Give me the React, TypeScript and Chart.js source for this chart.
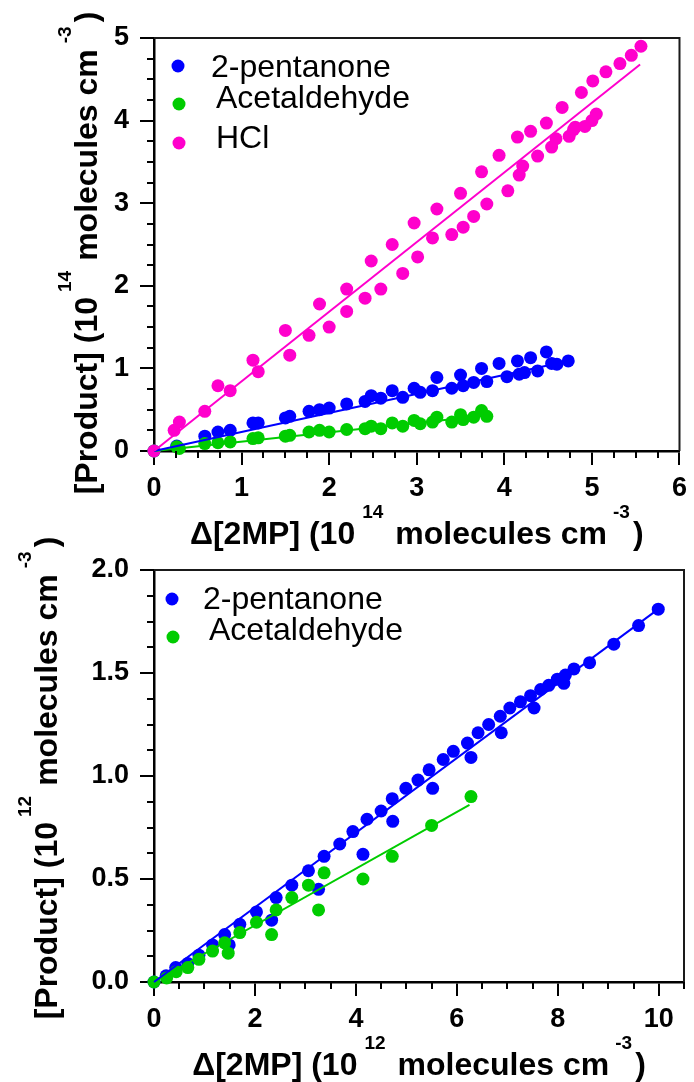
import React, { useEffect, useRef } from 'react';
import { Chart, registerables } from 'chart.js';

Chart.register(...registerables);

const BLUE = '#0000FF';
const GREEN = '#00CC00';
const MAGENTA = '#FF00CC';
const FONT = '"Liberation Sans", Arial, Helvetica, sans-serif';

// ---------- Top panel (10^14 molecules cm^-3) ----------
const topPentanoneX = [0, 0.26, 0.58, 0.73, 0.87, 1.13, 1.19, 1.50, 1.55, 1.77, 1.89, 2.00, 2.20, 2.41, 2.48, 2.59, 2.72, 2.84, 2.97, 3.04, 3.18, 3.23, 3.40, 3.50, 3.53, 3.65, 3.74, 3.80, 3.94, 4.03, 4.15, 4.17, 4.23, 4.30, 4.38, 4.48, 4.54, 4.60, 4.73];
const topPentanoneY = [0, 0.06, 0.18, 0.23, 0.25, 0.34, 0.34, 0.40, 0.42, 0.48, 0.50, 0.52, 0.57, 0.60, 0.67, 0.64, 0.73, 0.65, 0.76, 0.71, 0.73, 0.89, 0.76, 0.92, 0.79, 0.83, 1.00, 0.84, 1.06, 0.90, 1.09, 0.93, 0.95, 1.13, 0.97, 1.20, 1.06, 1.05, 1.09];
const topAcetX = [0, 0.26, 0.29, 0.58, 0.73, 0.87, 1.13, 1.19, 1.50, 1.55, 1.77, 1.89, 2.00, 2.20, 2.41, 2.48, 2.59, 2.72, 2.84, 2.97, 3.04, 3.18, 3.23, 3.40, 3.50, 3.53, 3.65, 3.74, 3.80];
const topAcetY = [0, 0.05, 0.03, 0.09, 0.10, 0.11, 0.15, 0.16, 0.18, 0.19, 0.23, 0.25, 0.23, 0.26, 0.27, 0.30, 0.27, 0.34, 0.30, 0.37, 0.33, 0.35, 0.41, 0.35, 0.44, 0.38, 0.41, 0.49, 0.42];
const topHclX = [0, 0.23, 0.29, 0.58, 0.73, 0.87, 1.13, 1.19, 1.50, 1.55, 1.77, 1.89, 2.00, 2.20, 2.20, 2.41, 2.48, 2.59, 2.72, 2.84, 2.97, 3.01, 3.18, 3.23, 3.40, 3.50, 3.53, 3.65, 3.74, 3.80, 3.94, 4.04, 4.15, 4.17, 4.21, 4.30, 4.38, 4.48, 4.54, 4.59, 4.66, 4.74, 4.79, 4.81, 4.88, 4.92, 5.00, 5.01, 5.05, 5.16, 5.32, 5.45, 5.56];
const topHclY = [0, 0.25, 0.35, 0.48, 0.79, 0.73, 1.10, 0.96, 1.46, 1.16, 1.40, 1.78, 1.50, 1.96, 1.69, 1.85, 2.30, 1.96, 2.50, 2.15, 2.76, 2.35, 2.58, 2.93, 2.62, 3.12, 2.71, 2.84, 3.38, 2.99, 3.58, 3.15, 3.80, 3.34, 3.45, 3.87, 3.57, 3.97, 3.68, 3.78, 4.16, 3.81, 3.89, 3.92, 4.34, 3.93, 4.00, 4.48, 4.08, 4.59, 4.69, 4.79, 4.90];
const topPentanoneFitX = [0, 4.73];
const topPentanoneFitY = [0, 1.09];
const topAcetFitX = [0, 3.80];
const topAcetFitY = [0, 0.43];
const topHclFitX = [0, 5.55];
const topHclFitY = [0, 4.68];

// ---------- Bottom panel (10^12 molecules cm^-3) ----------
const botPentanoneX = [0, 0.24, 0.43, 0.67, 0.89, 1.16, 1.40, 1.49, 1.70, 2.03, 2.33, 2.42, 2.73, 3.06, 3.26, 3.37, 3.68, 3.94, 4.14, 4.22, 4.50, 4.72, 4.73, 4.99, 5.23, 5.45, 5.52, 5.73, 5.93, 6.21, 6.28, 6.42, 6.63, 6.86, 6.88, 7.05, 7.26, 7.46, 7.53, 7.66, 7.82, 7.99, 8.12, 8.15, 8.32, 8.63, 9.11, 9.60, 9.99];
const botPentanoneY = [0, 0.03, 0.07, 0.09, 0.13, 0.18, 0.23, 0.18, 0.28, 0.34, 0.30, 0.41, 0.47, 0.54, 0.45, 0.61, 0.67, 0.73, 0.62, 0.79, 0.83, 0.89, 0.78, 0.94, 0.98, 1.03, 0.94, 1.08, 1.12, 1.16, 1.09, 1.21, 1.25, 1.29, 1.21, 1.33, 1.36, 1.39, 1.33, 1.42, 1.44, 1.47, 1.45, 1.49, 1.52, 1.55, 1.64, 1.73, 1.81];
const botAcetX = [0, 0.25, 0.44, 0.67, 0.89, 1.16, 1.40, 1.47, 1.70, 2.03, 2.33, 2.42, 2.73, 3.06, 3.26, 3.37, 4.14, 4.72, 5.50, 6.28];
const botAcetY = [0, 0.02, 0.05, 0.07, 0.11, 0.15, 0.19, 0.14, 0.24, 0.29, 0.23, 0.35, 0.41, 0.47, 0.35, 0.53, 0.50, 0.61, 0.76, 0.90];
const botPentanoneFitX = [0, 9.99];
const botPentanoneFitY = [0, 1.81];
const botAcetFitX = [0, 6.25];
const botAcetFitY = [0, 0.86];

// tick settings
const topXTicks = { min: 0, max: 6, step: 1, minor: 0.25 };
const topYTicks = { min: 0, max: 5, step: 1, minor: 0.25 };
const botXTicks = { min: 0, max: 10.5, step: 2, minor: 0.5 };
const botYTicks = { min: 0, max: 2, step: 0.5, minor: 0.125 };

const LABEL_PENTANONE = '2-pentanone';
const LABEL_ACET = 'Acetaldehyde';
const LABEL_HCL = 'HCl';

const zip = (xs: number[], ys: number[]) => xs.map((x, i) => ({ x, y: ys[i] }));

type Part = { t: string; sup?: boolean; gap?: number };

const xTitle = (exp: string): Part[] => [
  { t: 'Δ[2MP] (10' },
  { t: exp, sup: true, gap: 7 },
  { t: 'molecules cm', gap: 12 },
  { t: '-3', sup: true, gap: 6 },
  { t: ')', gap: 3 },
];
const yTitle = (exp: string): Part[] => [
  { t: '[Product] (10' },
  { t: exp, sup: true, gap: 5 },
  { t: 'molecules cm', gap: 10 },
  { t: '-3', sup: true, gap: 6 },
  { t: ')', gap: 4 },
];

function drawRich(ctx: CanvasRenderingContext2D, parts: Part[], ox: number, oy: number, rotated: boolean) {
  const MAIN = `bold 32px ${FONT}`;
  const SUP = `bold 19px ${FONT}`;
  const widths = parts.map((p) => {
    ctx.font = p.sup ? SUP : MAIN;
    return ctx.measureText(p.t).width;
  });
  const total = widths.reduce((a, b) => a + b, 0) + parts.reduce((a, p) => a + (p.gap || 0), 0);
  ctx.save();
  ctx.translate(ox, oy);
  if (rotated) ctx.rotate(-Math.PI / 2);
  ctx.fillStyle = '#000';
  ctx.textAlign = 'left';
  ctx.textBaseline = 'alphabetic';
  let x = -total / 2;
  parts.forEach((p, i) => {
    x += p.gap || 0;
    ctx.font = p.sup ? SUP : MAIN;
    ctx.fillText(p.t, x, p.sup ? -26 : 0);
    x += widths[i];
  });
  ctx.restore();
}

type LegendEntry = { color: string; dx: number; dy: number; tx: number; ty: number; text: string };

type Decor = {
  xMinor: number;
  yMinor: number;
  xMajor: number;
  yMajor: number;
  xTitle: Part[];
  yTitle: Part[];
  xTitleY: number;
  yTitleX: number;
  yTitleCY: number;
  legend: LegendEntry[];
};

function decorPlugin(d: Decor) {
  return {
    id: 'decor',
    afterDraw(chart: any) {
      const ctx: CanvasRenderingContext2D = chart.ctx;
      const xs = chart.scales.x;
      const ys = chart.scales.y;
      const a = chart.chartArea;
      ctx.save();
      ctx.strokeStyle = '#000';
      ctx.lineWidth = 2;
      // minor ticks x
      const nx = Math.round((xs.max - xs.min) / d.xMinor);
      for (let i = 0; i <= nx; i++) {
        const v = xs.min + i * d.xMinor;
        const r = v / d.xMajor;
        if (Math.abs(r - Math.round(r)) < 1e-6) continue;
        const px = Math.round(xs.getPixelForValue(v));
        ctx.beginPath();
        ctx.moveTo(px, a.bottom);
        ctx.lineTo(px, a.bottom + 7);
        ctx.stroke();
      }
      const ny = Math.round((ys.max - ys.min) / d.yMinor);
      for (let i = 0; i <= ny; i++) {
        const v = ys.min + i * d.yMinor;
        const r = v / d.yMajor;
        if (Math.abs(r - Math.round(r)) < 1e-6) continue;
        const py = Math.round(ys.getPixelForValue(v));
        ctx.beginPath();
        ctx.moveTo(a.left, py);
        ctx.lineTo(a.left - 7, py);
        ctx.stroke();
      }
      // top and right frame
      ctx.strokeStyle = '#1a1a1a';
      ctx.lineWidth = 2;
      ctx.beginPath();
      ctx.moveTo(a.left, a.top);
      ctx.lineTo(a.right, a.top);
      ctx.lineTo(a.right, a.bottom);
      ctx.stroke();
      ctx.restore();

      // titles
      drawRich(ctx, d.xTitle, (a.left + a.right) / 2, d.xTitleY, false);
      drawRich(ctx, d.yTitle, d.yTitleX, d.yTitleCY, true);

      // legend
      ctx.save();
      d.legend.forEach((e) => {
        ctx.fillStyle = e.color;
        ctx.beginPath();
        ctx.arc(e.dx, e.dy, 6.5, 0, Math.PI * 2);
        ctx.fill();
        ctx.fillStyle = '#000';
        ctx.font = `32px ${FONT}`;
        ctx.textAlign = 'left';
        ctx.textBaseline = 'alphabetic';
        ctx.fillText(e.text, e.tx, e.ty);
      });
      ctx.restore();
    },
  };
}

function scatterSet(data: { x: number; y: number }[], color: string, order: number) {
  return {
    type: 'scatter' as const,
    data,
    backgroundColor: color,
    borderColor: color,
    pointRadius: 6.5,
    pointHoverRadius: 6.5,
    pointBorderWidth: 0,
    showLine: false,
    clip: false as any,
    order,
  };
}

function fitSet(data: { x: number; y: number }[], color: string) {
  return {
    type: 'scatter' as const,
    data,
    borderColor: color,
    backgroundColor: color,
    borderWidth: 2,
    pointRadius: 0,
    showLine: true,
    clip: false as any,
    order: 0,
  };
}

function axis(
  t: { min: number; max: number; step: number },
  isX: boolean,
  size: number,
  fmt?: (v: number) => string
) {
  return {
    type: 'linear' as const,
    position: isX ? 'bottom' : 'left',
    min: t.min,
    max: t.max,
    afterFit: (s: any) => {
      if (isX) s.height = size;
      else s.width = size;
    },
    ticks: {
      stepSize: t.step,
      includeBounds: false,
      autoSkip: false,
      maxRotation: 0,
      padding: isX ? 7 : 11,
      color: '#000',
      font: { family: FONT, size: 27, weight: 'bold' as const },
      callback: (v: any) => (fmt ? fmt(Number(v)) : String(v)),
    },
    grid: {
      display: true,
      drawOnChartArea: false,
      drawTicks: true,
      tickLength: 14,
      color: '#000',
      lineWidth: 2,
    },
    border: { display: true, color: '#000', width: 2.5 },
  };
}

const TOP_H = 560;
const BOT_TOP = 525;
const BOT_H = 557;

function makeTopConfig(): any {
  return {
    type: 'scatter',
    data: {
      datasets: [
        fitSet(zip(topHclFitX, topHclFitY), MAGENTA),
        fitSet(zip(topPentanoneFitX, topPentanoneFitY), BLUE),
        fitSet(zip(topAcetFitX, topAcetFitY), GREEN),
        scatterSet(zip(topHclX, topHclY), MAGENTA, 1),
        scatterSet(zip(topAcetX, topAcetY), GREEN, 2),
        scatterSet(zip(topPentanoneX, topPentanoneY), BLUE, 3),
      ],
    },
    options: {
      responsive: false,
      animation: false,
      devicePixelRatio: 1,
      layout: { padding: { left: 0, right: 10, top: 38, bottom: 0 } },
      plugins: { legend: { display: false }, tooltip: { enabled: false } },
      events: [],
      scales: {
        x: axis(topXTicks, true, TOP_H - 451),
        y: axis(topYTicks, false, 154),
      },
    },
    plugins: [
      decorPlugin({
        xMinor: topXTicks.minor,
        yMinor: topYTicks.minor,
        xMajor: topXTicks.step,
        yMajor: topYTicks.step,
        xTitle: xTitle('14'),
        yTitle: yTitle('14'),
        xTitleY: 544,
        yTitleX: 97,
        yTitleCY: 253,
        legend: [
          { color: BLUE, dx: 178, dy: 66, tx: 211, ty: 77, text: LABEL_PENTANONE },
          { color: GREEN, dx: 179, dy: 104, tx: 216, ty: 108, text: LABEL_ACET },
          { color: MAGENTA, dx: 179, dy: 143, tx: 216, ty: 148, text: LABEL_HCL },
        ],
      }),
    ],
  };
}

function makeBottomConfig(): any {
  return {
    type: 'scatter',
    data: {
      datasets: [
        fitSet(zip(botPentanoneFitX, botPentanoneFitY), BLUE),
        fitSet(zip(botAcetFitX, botAcetFitY), GREEN),
        scatterSet(zip(botAcetX, botAcetY), GREEN, 1),
        scatterSet(zip(botPentanoneX, botPentanoneY), BLUE, 2),
      ],
    },
    options: {
      responsive: false,
      animation: false,
      devicePixelRatio: 1,
      layout: { padding: { left: 0, right: 10, top: 570 - BOT_TOP, bottom: 0 } },
      plugins: { legend: { display: false }, tooltip: { enabled: false } },
      events: [],
      scales: {
        x: axis(botXTicks, true, BOT_H - (982 - BOT_TOP)),
        y: axis(botYTicks, false, 154, (v) => v.toFixed(1)),
      },
    },
    plugins: [
      decorPlugin({
        xMinor: botXTicks.minor,
        yMinor: botYTicks.minor,
        xMajor: botXTicks.step,
        yMajor: botYTicks.step,
        xTitle: xTitle('12'),
        yTitle: yTitle('12'),
        xTitleY: 1075 - BOT_TOP,
        yTitleX: 57,
        yTitleCY: 778 - BOT_TOP,
        legend: [
          { color: BLUE, dx: 172, dy: 599 - BOT_TOP, tx: 203, ty: 609 - BOT_TOP, text: LABEL_PENTANONE },
          { color: GREEN, dx: 173, dy: 637 - BOT_TOP, tx: 209, ty: 640 - BOT_TOP, text: LABEL_ACET },
        ],
      }),
    ],
  };
}

function ChartCanvas({ top, height, make }: { top: number; height: number; make: () => any }) {
  const ref = useRef<HTMLCanvasElement | null>(null);
  useEffect(() => {
    if (!ref.current) return;
    const c = new Chart(ref.current, make());
    return () => c.destroy();
  }, []);
  return (
    <canvas
      ref={ref}
      width={694}
      height={height}
      style={{ position: 'absolute', left: 0, top, width: 694, height, display: 'block' }}
    />
  );
}

export default function App() {
  return (
    <div style={{ position: 'absolute', left: 0, top: 0, width: 694, height: 1082, background: '#fff' }}>
      <ChartCanvas top={0} height={TOP_H} make={makeTopConfig} />
      <ChartCanvas top={BOT_TOP} height={BOT_H} make={makeBottomConfig} />
    </div>
  );
}
